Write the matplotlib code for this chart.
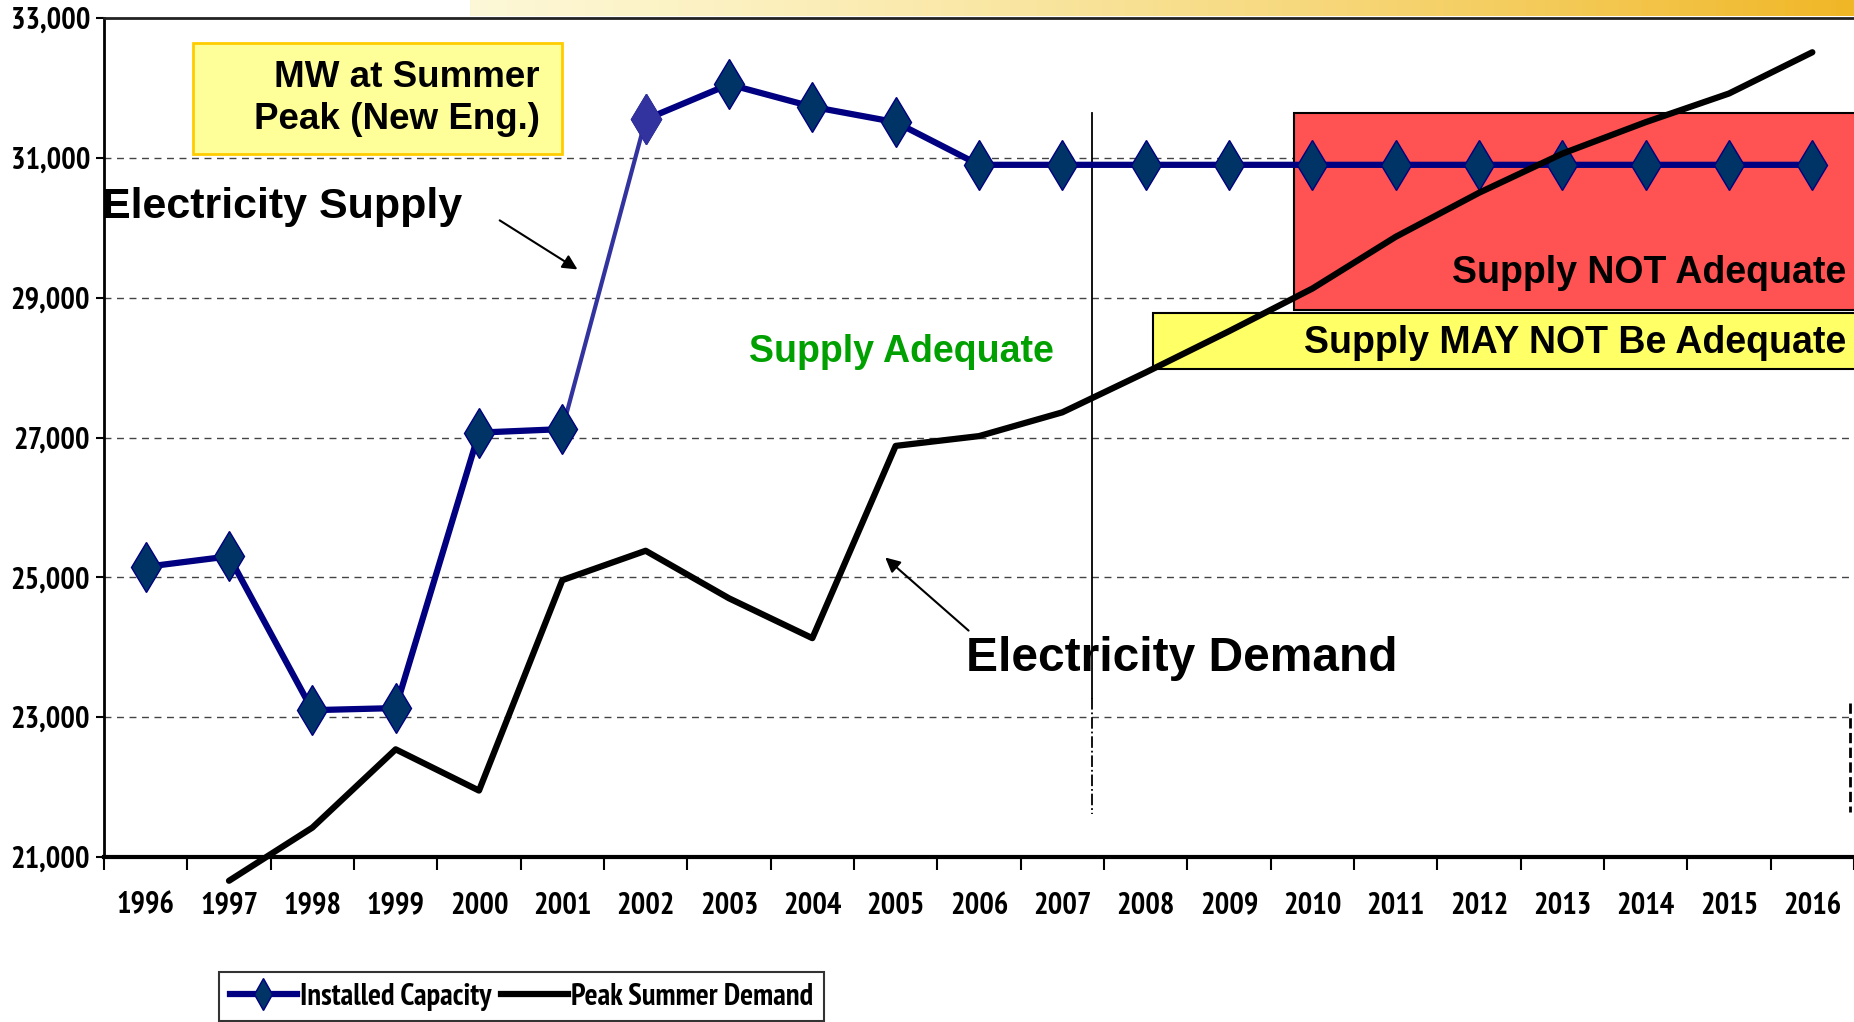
import numpy as np
import matplotlib.pyplot as plt
from matplotlib import font_manager
from matplotlib.patches import Rectangle
from matplotlib.lines import Line2D


def pick_bold_font(names):
    # first family in the list that ships a real bold face
    fonts = font_manager.fontManager.ttflist
    for n in names:
        for f in fonts:
            if f.name == n and f.weight in (700, 'bold') and f.style == 'normal':
                return n
    return 'Liberation Sans'


NARROW = pick_bold_font(['Arial Narrow', 'Liberation Sans Narrow', 'Archivo Narrow',
                         'PT Sans Narrow', 'Roboto Condensed', 'Fira Sans Condensed',
                         'IBM Plex Sans Condensed', 'Encode Sans Condensed',
                         'Sofia Sans Condensed', 'Liberation Sans'])
WIDE = 'Liberation Sans'

# data
years = [str(y) for y in range(1996, 2017)]
capacity = [25150, 25300, 23100, 23130, 27070, 27120, 31550, 32050, 31730, 31510,
            30900, 30900, 30900, 30900, 30900, 30900, 30900, 30900, 30900, 30900, 30900]
demand_years = years[1:]
demand = [20660, 21420, 22540, 21950, 24960, 25380, 24700, 24130, 26880, 27020,
          27360, 27930, 28520, 29130, 29870, 30500, 31060, 31510, 31920, 32510]
yticks = [21000, 23000, 25000, 27000, 29000, 31000, 33000]

x = np.arange(len(years))
xd = np.arange(1, len(years))

fig = plt.figure(figsize=(18.54, 10.22), dpi=100)
ax = fig.add_axes([104 / 1854, 1 - 857 / 1022, 1750 / 1854, 839 / 1022])

# yellow brushed stripe at the top
band = fig.add_axes([470 / 1854, 1 - 16 / 1022, 1 - 470 / 1854, 16 / 1022])
g = np.linspace(0, 1, 300)
rgb = np.zeros((1, 300, 4))
rgb[0, :, 0] = 0.98 - 0.04 * g
rgb[0, :, 1] = 0.92 - 0.22 * g
rgb[0, :, 2] = 0.55 - 0.45 * g
rgb[0, :, 3] = 0.35 + 0.6 * g
band.imshow(rgb, aspect='auto', extent=[0, 1, 0, 1])
band.axis('off')

ax.set_xlim(-0.5, 20.5)
ax.set_ylim(21000, 33000)

# shaded zones
ax.add_patch(Rectangle((13.78, 28826), 8, 31648 - 28826, facecolor='#FF5252',
                       edgecolor='black', lw=1.5, zorder=1, clip_on=True))
ax.add_patch(Rectangle((12.09, 27980), 9, 28775 - 27980, facecolor='#FFFF66',
                       edgecolor='black', lw=1.5, zorder=1, clip_on=True))
ax.add_patch(Rectangle((0.57, 31056), 4.43, 32645 - 31056, facecolor='#FFFF99',
                       edgecolor='#FFCC00', lw=2, zorder=1))

# grid
for yv in yticks[1:-1]:
    ax.axhline(yv, color='#444444', lw=1, ls=(0, (5, 4)), zorder=0.5)

# vertical marker line
ax.plot([11.36, 11.36], [31648, 23280], color='black', lw=1.3, zorder=2)
ax.plot([11.36, 11.36], [23280, 21620], color='black', lw=1.3, ls='-.', zorder=2)
ax.plot([20.45, 20.45], [23200, 21650], color='black', lw=2, ls='--', zorder=2)

# series
ax.plot(x[:6], capacity[:6], color='#000080', lw=4.5, zorder=3)
ax.plot(x[5:7], capacity[5:7], color='#3333A0', lw=3, zorder=3)
ax.plot(x[6:], capacity[6:], color='#000080', lw=4.5, zorder=3)
ax.plot(x, capacity, ls='none', marker='d', ms=25, mfc='#003366', mec='#000080',
        mew=1, zorder=4)
ax.plot(x[6], capacity[6], ls='none', marker='d', ms=25, mfc='#3333A0',
        mec='#3333A0', zorder=4)
ax.plot(xd, demand, color='black', lw=4.5, zorder=5, clip_on=False,
        solid_capstyle='round')

# axes style
ax.set_xticks(x)
ax.set_xticklabels(years)
ax.set_xticks(np.arange(-0.5, 21, 1), minor=True)
ax.tick_params(axis='x', which='major', length=0, pad=25)
ax.tick_params(axis='x', which='minor', length=9, width=1.5, direction='out')
ax.set_yticks(yticks)
ax.set_yticklabels([f"{v:,}" for v in yticks])
ax.tick_params(axis='y', length=6, width=1.5, pad=4)
for lab in ax.get_xticklabels() + ax.get_yticklabels():
    lab.set_fontfamily(NARROW)
    lab.set_fontweight('bold')
    lab.set_fontsize(22)
ax.spines['bottom'].set_linewidth(3)
ax.spines['left'].set_linewidth(2)
ax.spines['top'].set_linewidth(2)
ax.spines['top'].set_color('#222222')
ax.spines['right'].set_visible(False)

# annotations
ax.text(4.73, 31850, "MW at Summer\nPeak (New Eng.)", ha='right', va='center',
        fontsize=26.5, fontweight='bold', family=WIDE, linespacing=1.25, zorder=6)
ax.text(-0.53, 30296, "Electricity Supply", ha='left', va='center',
        fontsize=31, fontweight='bold', family=WIDE, zorder=6)
ax.annotate("", xy=(5.21, 29383), xytext=(4.22, 30127),
            arrowprops=dict(arrowstyle='-|>', color='black', lw=1.5,
                            mutation_scale=22), zorder=6)
ax.text(7.24, 28217, "Supply Adequate", ha='left', va='center', color='#00A000',
        fontsize=27, fontweight='bold', family=WIDE, zorder=6)
ax.text(9.84, 23840, "Electricity Demand", ha='left', va='center',
        fontsize=34.5, fontweight='bold', family=WIDE, zorder=6)
ax.annotate("", xy=(8.85, 25310), xytext=(9.90, 24212),
            arrowprops=dict(arrowstyle='-|>', color='black', lw=1.5,
                            mutation_scale=22), zorder=6)
ax.text(20.41, 29350, "Supply NOT Adequate", ha='right', va='center',
        fontsize=27, fontweight='bold', family=WIDE, zorder=6)
ax.text(20.41, 28352, "Supply MAY NOT Be Adequate", ha='right', va='center',
        fontsize=27, fontweight='bold', family=WIDE, zorder=6)

# legend
handles = [Line2D([], [], color='#000080', lw=4.5, marker='d', ms=16,
                  mfc='#003366', mec='#000080'),
           Line2D([], [], color='black', lw=4.5)]
leg = fig.legend(handles, ["Installed Capacity", "Peak Summer Demand"],
                 loc='upper left', bbox_to_anchor=(219 / 1854, 1 - 972 / 1022),
                 ncol=2, frameon=True, fancybox=False, handlelength=2.2,
                 handletextpad=0.1, columnspacing=0.3, borderpad=0.35,
                 borderaxespad=0,
                 prop={'family': NARROW, 'weight': 'bold', 'size': 22})
leg.get_frame().set_edgecolor('black')
leg.get_frame().set_linewidth(1.5)

fig.savefig("out.png", dpi=100)
